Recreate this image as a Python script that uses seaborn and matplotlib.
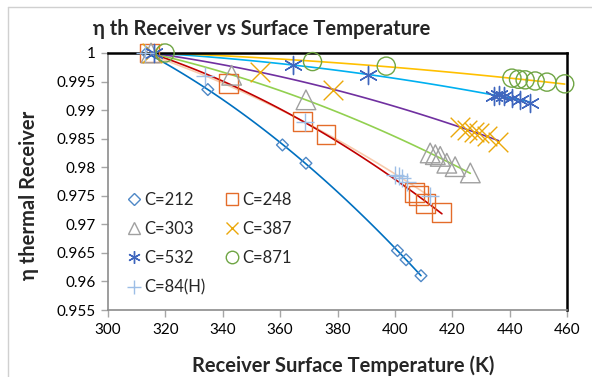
import numpy as np
import pandas as pd
import matplotlib
matplotlib.use("Agg")
import matplotlib.pyplot as plt
import seaborn as sns
from matplotlib.lines import Line2D
from matplotlib.ticker import FuncFormatter

# data
c212_temp = [313.5, 334.8, 360.8, 369.0, 400.9, 403.9, 409.1]
c212_eff = [1.0, 0.9936, 0.9839, 0.9807, 0.9654, 0.9638, 0.9610]

c248_temp = [314.5, 342.0, 367.9, 376.0, 406.8, 408.2, 410.6, 416.4]
c248_eff = [1.0, 0.9947, 0.9880, 0.9857, 0.9755, 0.9751, 0.9737, 0.9720]

c303_temp = [315.0, 343.1, 369.0, 412.3, 414.1, 415.8, 418.1, 421.0, 426.3]
c303_eff = [1.0, 0.9961, 0.9918, 0.9825, 0.9822, 0.9819, 0.9807, 0.9801, 0.9790]

c387_temp = [315.5, 353.0, 378.6, 422.8, 425.1, 427.5, 429.2, 432.1, 436.1]
c387_eff = [1.0, 0.9966, 0.9936, 0.9871, 0.9866, 0.9862, 0.9860, 0.9854, 0.9845]

c532_temp = [316.0, 364.6, 390.8, 434.4, 436.2, 437.9, 440.8, 443.7, 447.2]
c532_eff = [1.0, 0.9979, 0.9962, 0.9925, 0.9926, 0.9924, 0.9921, 0.9918, 0.9913]

c871_temp = [319.9, 371.3, 397.0, 440.8, 443.1, 445.4, 448.9, 453.0, 459.2]
c871_eff = [1.0, 0.9985, 0.9977, 0.9956, 0.9954, 0.9953, 0.9951, 0.9949, 0.9946]

c84h_temp = [313.0, 333.8, 368.7, 400.1, 401.3, 402.4, 404.2, 412.3]
c84h_eff = [1.0, 0.9959, 0.9880, 0.9787, 0.9784, 0.9781, 0.9775, 0.9749]

series_labels = ["C=212", "C=248", "C=303", "C=387", "C=532", "C=871", "C=84(H)"]
x_ticks = [300, 320, 340, 360, 380, 400, 420, 440, 460]
y_ticks = [0.955, 0.96, 0.965, 0.97, 0.975, 0.98, 0.985, 0.99, 0.995, 1.0]

series_data = [
    (c212_temp, c212_eff),
    (c248_temp, c248_eff),
    (c303_temp, c303_eff),
    (c387_temp, c387_eff),
    (c532_temp, c532_eff),
    (c871_temp, c871_eff),
    (c84h_temp, c84h_eff),
]

frames = []
for label, (t, e) in zip(series_labels, series_data):
    frames.append(pd.DataFrame({"temp": t, "eff": e, "series": label}))
df = pd.concat(frames, ignore_index=True)

# marker styling (Excel look)
marker_style = {
    "C=212": dict(marker="D", color="#4F88C6", s=36, filled=False),
    "C=248": dict(marker="s", color="#E46C2A", s=185, filled=False),
    "C=303": dict(marker="^", color="#A0A0A0", s=200, filled=False),
    "C=387": dict(marker="x", color="#EBA80A", s=200, filled=True),
    "C=532": dict(marker=(6, 2, 0), color="#3F66BE", s=170, filled=True),
    "C=871": dict(marker="o", color="#6FA544", s=170, filled=False),
    "C=84(H)": dict(marker="+", color="#9DBEE6", s=170, filled=True),
}
trend_color = {
    "C=212": "#0070C0",
    "C=248": "#C00000",
    "C=303": "#92D050",
    "C=387": "#7030A0",
    "C=532": "#00B0F0",
    "C=871": "#FFC000",
    "C=84(H)": "#F8CBAD",
}

sns.set_style("white")
plt.rcParams["font.family"] = ["Lato", "DejaVu Sans"]

fig = plt.figure(figsize=(5.92, 3.77), dpi=100)
ax = fig.add_axes([108 / 592, 1 - 310 / 377, (567 - 108) / 592, (310 - 53) / 377])

# trendlines first
for label in ["C=84(H)", "C=212", "C=248", "C=303", "C=387", "C=532", "C=871"]:
    sub = df[df.series == label]
    sns.regplot(
        data=sub, x="temp", y="eff", order=2, scatter=False, ci=None,
        truncate=True, ax=ax,
        line_kws=dict(color=trend_color[label], lw=1.2, zorder=2),
    )

for label in series_labels:
    sub = df[df.series == label]
    st = marker_style[label]
    if st["filled"]:
        kw = dict(color=st["color"], linewidth=1.0)
    else:
        kw = dict(facecolors="none", edgecolor=st["color"], linewidth=1.0)
    sns.scatterplot(
        data=sub, x="temp", y="eff", marker=st["marker"], s=st["s"],
        ax=ax, clip_on=False, zorder=3, **kw,
    )

ax.set_xlim(300, 460)
ax.set_ylim(0.955, 1.0)
ax.set_xticks(x_ticks)
ax.set_yticks(y_ticks)
ax.yaxis.set_major_formatter(FuncFormatter(lambda v, p: f"{v:g}"))
ax.tick_params(axis="both", which="major", direction="out", length=5,
               width=1, color="#A6A6A6", labelsize=11, labelcolor="black",
               bottom=True, left=True, pad=4)
ax.set_xlabel("")
ax.set_ylabel("")

for side in ["top", "right"]:
    ax.spines[side].set_color("black")
    ax.spines[side].set_linewidth(1.8)
for side in ["left", "bottom"]:
    ax.spines[side].set_color("#8C8C8C")
    ax.spines[side].set_linewidth(1.2)

# legend (row-wise order like Excel)
handles = {}
for label in series_labels:
    st = marker_style[label]
    small = {"C=212": 6, "C=248": 9, "C=303": 9, "C=387": 9, "C=532": 9,
             "C=871": 9, "C=84(H)": 10}[label]
    handles[label] = Line2D([], [], linestyle="none", marker=st["marker"],
                            markersize=small,
                            markerfacecolor="none" if not st["filled"] else st["color"],
                            markeredgecolor=st["color"], markeredgewidth=1.0)
order = ["C=212", "C=303", "C=532", "C=84(H)", "C=248", "C=387", "C=871"]
ax.legend([handles[k] for k in order], order, ncol=2, frameon=False,
          loc="upper left", bbox_to_anchor=(0.028, 0.487), fontsize=12,
          handlelength=0.8, handletextpad=0.2, labelspacing=0.8,
          columnspacing=1.2, borderaxespad=0)

fig.text(262 / 592, 1 - 29 / 377, "η th Receiver vs Surface Temperature",
         ha="center", va="center", fontsize=14.5, fontweight="bold")
fig.text(343 / 592, 1 - 366 / 377, "Receiver Surface Temperature (K)",
         ha="center", va="center", fontsize=14.5, fontweight="bold")
fig.text(29 / 592, 1 - 195 / 377, "η thermal Receiver", ha="center",
         va="center", rotation=90, fontsize=14.5, fontweight="bold")

# chart area border (left and top edges visible)
fig.add_artist(Line2D([8 / 592, 8 / 592], [0, 1 - 7 / 377],
                      transform=fig.transFigure, color="#D0D0D0", lw=1))
fig.add_artist(Line2D([8 / 592, 1], [1 - 7 / 377, 1 - 7 / 377],
                      transform=fig.transFigure, color="#D0D0D0", lw=1))

fig.savefig("out.png", dpi=100, facecolor="white")
